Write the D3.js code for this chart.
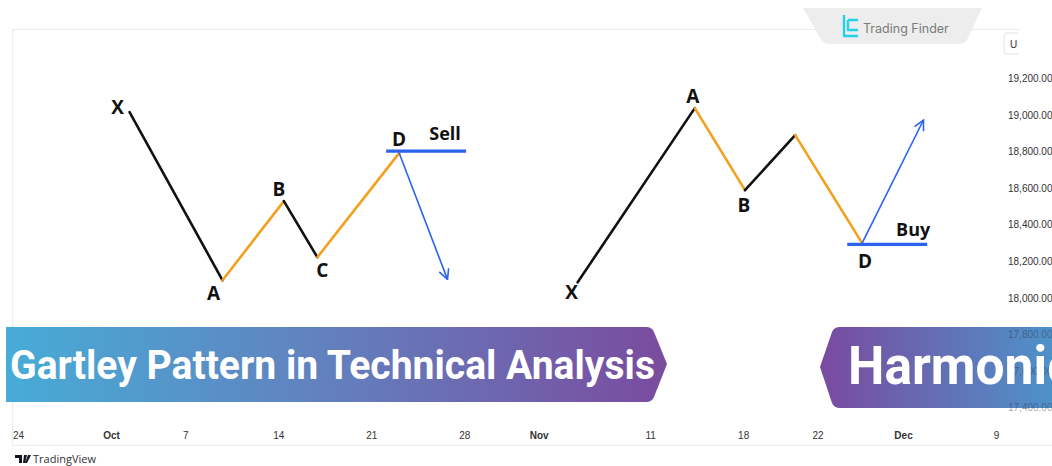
<!DOCTYPE html>
<html>
<head>
<meta charset="utf-8">
<script src="https://cdn.jsdelivr.net/npm/d3@7"></script>
<style>
  html, body { margin: 0; padding: 0; background: #fff; }
  svg { display: block; }
</style>
</head>
<body>
<div id="chart"></div>
<script>
// x runs over trading-day index (Sep 24 = 0), y over price
const tickIdx    = [0, 5, 9, 14, 19, 24, 28, 34, 39, 43, 47.6, 52.6];
const tickLabels = ["24", "Oct", "7", "14", "21", "28", "Nov", "11", "18", "22", "Dec", "9"];
const monthLabels = ["Oct", "Nov", "Dec"];
const priceTicks = [19200, 19000, 18800, 18600, 18400, 18200, 18000, 17800, 17600, 17400];

// bearish gartley (left)
const sellNames = ["X", "A", "B", "C", "D"];
const sellIdx   = [6.0, 11.0, 14.3, 16.1, 20.5];
const sellPrice = [19016, 18096, 18529, 18222, 18792];
const sellLevel = { from: 19.8, to: 24.1, price: 18803 };
const sellTarget = { idx: 23.1, price: 18101 };

// bullish gartley (right)
const buyNames = ["X", "A", "B", "", "D"];
const buyIdx   = [30.1, 36.4, 39.1, 41.8, 45.4];
const buyPrice = [18085, 19038, 18589, 18890, 18299];
const buyLevel = { from: 44.6, to: 48.9, price: 18293 };
const buyTarget = { idx: 48.7, price: 18973 };

const W = 1052, H = 466;
const BLACK = "#111111", ORANGE = "#f5a01c", BLUE = "#2a63f0";

const svg = d3.select("#chart").append("svg")
  .attr("width", W).attr("height", H)
  .attr("viewBox", `0 0 ${W} ${H}`);

const x = d3.scaleLinear().domain([0, 52.6]).range([18, 996]);
const y = d3.scaleLinear().domain([17400, 19200]).range([407.5, 78.5]);

const defs = svg.append("defs");
defs.append("marker")
  .attr("id", "arrow").attr("viewBox", "0 0 12 12")
  .attr("refX", 11).attr("refY", 6)
  .attr("markerWidth", 12).attr("markerHeight", 12)
  .attr("markerUnits", "userSpaceOnUse")
  .attr("orient", "auto")
  .append("path").attr("d", "M1,1 L11,6 L1,11")
  .attr("fill", "none").attr("stroke", BLUE).attr("stroke-width", 1.6);

const gl = defs.append("linearGradient").attr("id", "gLeft");
gl.append("stop").attr("offset", "0%").attr("stop-color", "#47acd7");
gl.append("stop").attr("offset", "50%").attr("stop-color", "#637fbd");
gl.append("stop").attr("offset", "100%").attr("stop-color", "#7a4b9f");
const gr = defs.append("linearGradient").attr("id", "gRight");
gr.append("stop").attr("offset", "0%").attr("stop-color", "#7a4a9f");
gr.append("stop").attr("offset", "100%").attr("stop-color", "#4d94cb");

defs.append("clipPath").attr("id", "usClip")
  .append("rect").attr("x", 1000).attr("y", 30).attr("width", 18).attr("height", 30);

// frame
const frame = svg.append("g").attr("stroke", "#ececec").attr("stroke-width", 1.2);
frame.append("line").attr("x1", 12).attr("x2", 1020).attr("y1", 29.5).attr("y2", 29.5);
frame.append("line").attr("x1", 12.5).attr("x2", 12.5).attr("y1", 29).attr("y2", 446);
frame.append("line").attr("x1", 12).attr("x2", W).attr("y1", 445.5).attr("y2", 445.5);

// Trading Finder tab
svg.append("path")
  .attr("d", "M803,8 L982,8 L968,38 Q965,44 958,44 L830,44 Q823,44 820,38 Z")
  .attr("fill", "#ededed");
svg.append("path")
  .attr("d", "M844,15 L844,36 L858,36 M848,20 L858,20 M848,20 L848,30 L858,30")
  .attr("fill", "none").attr("stroke", "#22d3e6").attr("stroke-width", 2.4)
  .attr("stroke-linejoin", "round");
svg.append("text")
  .attr("x", 863).attr("y", 32.5)
  .style("font-family", "Inter, 'Open Sans', sans-serif")
  .style("font-size", "12.5px").style("fill", "#7a7a7a")
  .text("Trading Finder");

// currency box at top of the price scale
svg.append("path")
  .attr("d", "M1018,33 L1007,33 Q1004,33 1004,36 L1004,51 Q1004,54 1007,54 L1018,54")
  .attr("fill", "#fff").attr("stroke", "#e3e3e3");
svg.append("text").attr("clip-path", "url(#usClip)")
  .attr("x", 1010).attr("y", 47.5)
  .style("font-family", "'Liberation Sans', Arial, sans-serif")
  .style("font-size", "10px").style("fill", "#333")
  .text("USD");

// patterns
function drawPattern(idx, price, names, level, target, offsets, tag, tagOff) {
  const g = svg.append("g");
  for (let k = 0; k < idx.length - 1; k++) {
    g.append("line")
      .attr("x1", x(idx[k])).attr("y1", y(price[k]))
      .attr("x2", x(idx[k + 1])).attr("y2", y(price[k + 1]))
      .attr("stroke", k % 2 === 0 ? BLACK : ORANGE)
      .attr("stroke-width", 2.6).attr("stroke-linecap", "round");
  }
  const last = idx.length - 1;
  g.append("line")
    .attr("x1", x(level.from)).attr("x2", x(level.to))
    .attr("y1", y(level.price)).attr("y2", y(level.price))
    .attr("stroke", BLUE).attr("stroke-width", 3.2);
  g.append("line")
    .attr("x1", x(idx[last])).attr("y1", y(price[last]))
    .attr("x2", x(target.idx)).attr("y2", y(target.price))
    .attr("stroke", BLUE).attr("stroke-width", 1.6)
    .attr("marker-end", "url(#arrow)");
  names.forEach((n, k) => {
    if (!n) return;
    g.append("text")
      .attr("x", x(idx[k]) + offsets[k][0])
      .attr("y", y(price[k]) + offsets[k][1])
      .attr("text-anchor", "middle").attr("dominant-baseline", "central")
      .style("font-family", "'Open Sans', sans-serif")
      .style("font-weight", 700).style("font-size", "19px").style("fill", BLACK)
      .text(n);
  });
  g.append("text")
    .attr("x", x(level.to) + tagOff[0]).attr("y", y(level.price) + tagOff[1])
    .attr("text-anchor", "middle").attr("dominant-baseline", "central")
    .style("font-family", "'Open Sans', sans-serif")
    .style("font-weight", 700).style("font-size", "18px").style("fill", BLACK)
    .text(tag);
}

drawPattern(sellIdx, sellPrice, sellNames, sellLevel, sellTarget,
  [[-12, -5], [-9, 13], [-5, -12], [5, 13], [0, -14]], "Sell", [-21, -18]);
drawPattern(buyIdx, buyPrice, buyNames, buyLevel, buyTarget,
  [[-6, 10], [-2, -12], [-1, 15], [0, 0], [3, 18]], "Buy", [-14, -15]);

// banners
svg.append("path")
  .attr("d", "M6,327 L646,327 Q652,327 654,332 L667,364 L654,397 Q652,402 646,402 L6,402 Z")
  .attr("fill", "url(#gLeft)");
svg.append("path")
  .attr("d", "M1060,327 L840,327 Q834,327 832,332 L820,367 L832,403 Q834,408 840,408 L1060,408 Z")
  .attr("fill", "url(#gRight)");

// price scale (drawn over the right banner, faintly)
svg.append("g")
  .attr("transform", "translate(1002,0)")
  .call(d3.axisRight(y).tickValues(priceTicks).tickSize(0).tickPadding(6)
    .tickFormat(d3.format(",.2f")))
  .call(ax => ax.select(".domain").remove())
  .call(ax => ax.selectAll("text")
    .style("font-family", "'Liberation Sans', Arial, sans-serif")
    .style("font-size", "10px")
    .style("fill", d => (d < 17900 ? "rgba(40,40,60,0.45)" : "#333")));

// time scale
svg.append("g")
  .attr("transform", "translate(0,429)")
  .call(d3.axisBottom(x).tickValues(tickIdx).tickSize(0).tickPadding(3)
    .tickFormat((d, i) => tickLabels[i]))
  .call(ax => ax.select(".domain").remove())
  .call(ax => ax.selectAll("text")
    .style("font-family", "'Liberation Sans', Arial, sans-serif")
    .style("font-size", "10px")
    .style("font-weight", (d, i) => monthLabels.includes(tickLabels[i]) ? 700 : 400)
    .style("fill", "#333"));

// banner titles
svg.append("text")
  .attr("x", 10).attr("y", 379)
  .attr("textLength", 645).attr("lengthAdjust", "spacingAndGlyphs")
  .style("font-family", "Roboto, sans-serif")
  .style("font-weight", 700).style("font-size", "41px").style("fill", "#fff")
  .text("Gartley Pattern in Technical Analysis");
svg.append("text")
  .attr("x", 848).attr("y", 384)
  .attr("textLength", 226).attr("lengthAdjust", "spacingAndGlyphs")
  .style("font-family", "Roboto, sans-serif")
  .style("font-weight", 700).style("font-size", "53px").style("fill", "#fff")
  .text("Harmonic");

// TradingView footer
svg.append("path")
  .attr("d", "M15,455 L22,455 L22,463 L19,463 L19,458 L15,458 Z M24,455 L27,455 L25,463 L23,463 Z M28,455 L31,455 L27,463 L25,463 Z")
  .attr("fill", "#131722");
svg.append("text")
  .attr("x", 33).attr("y", 463)
  .style("font-family", "'Open Sans', sans-serif")
  .style("font-size", "11px").style("fill", "#333")
  .text("TradingView");
</script>
</body>
</html>
